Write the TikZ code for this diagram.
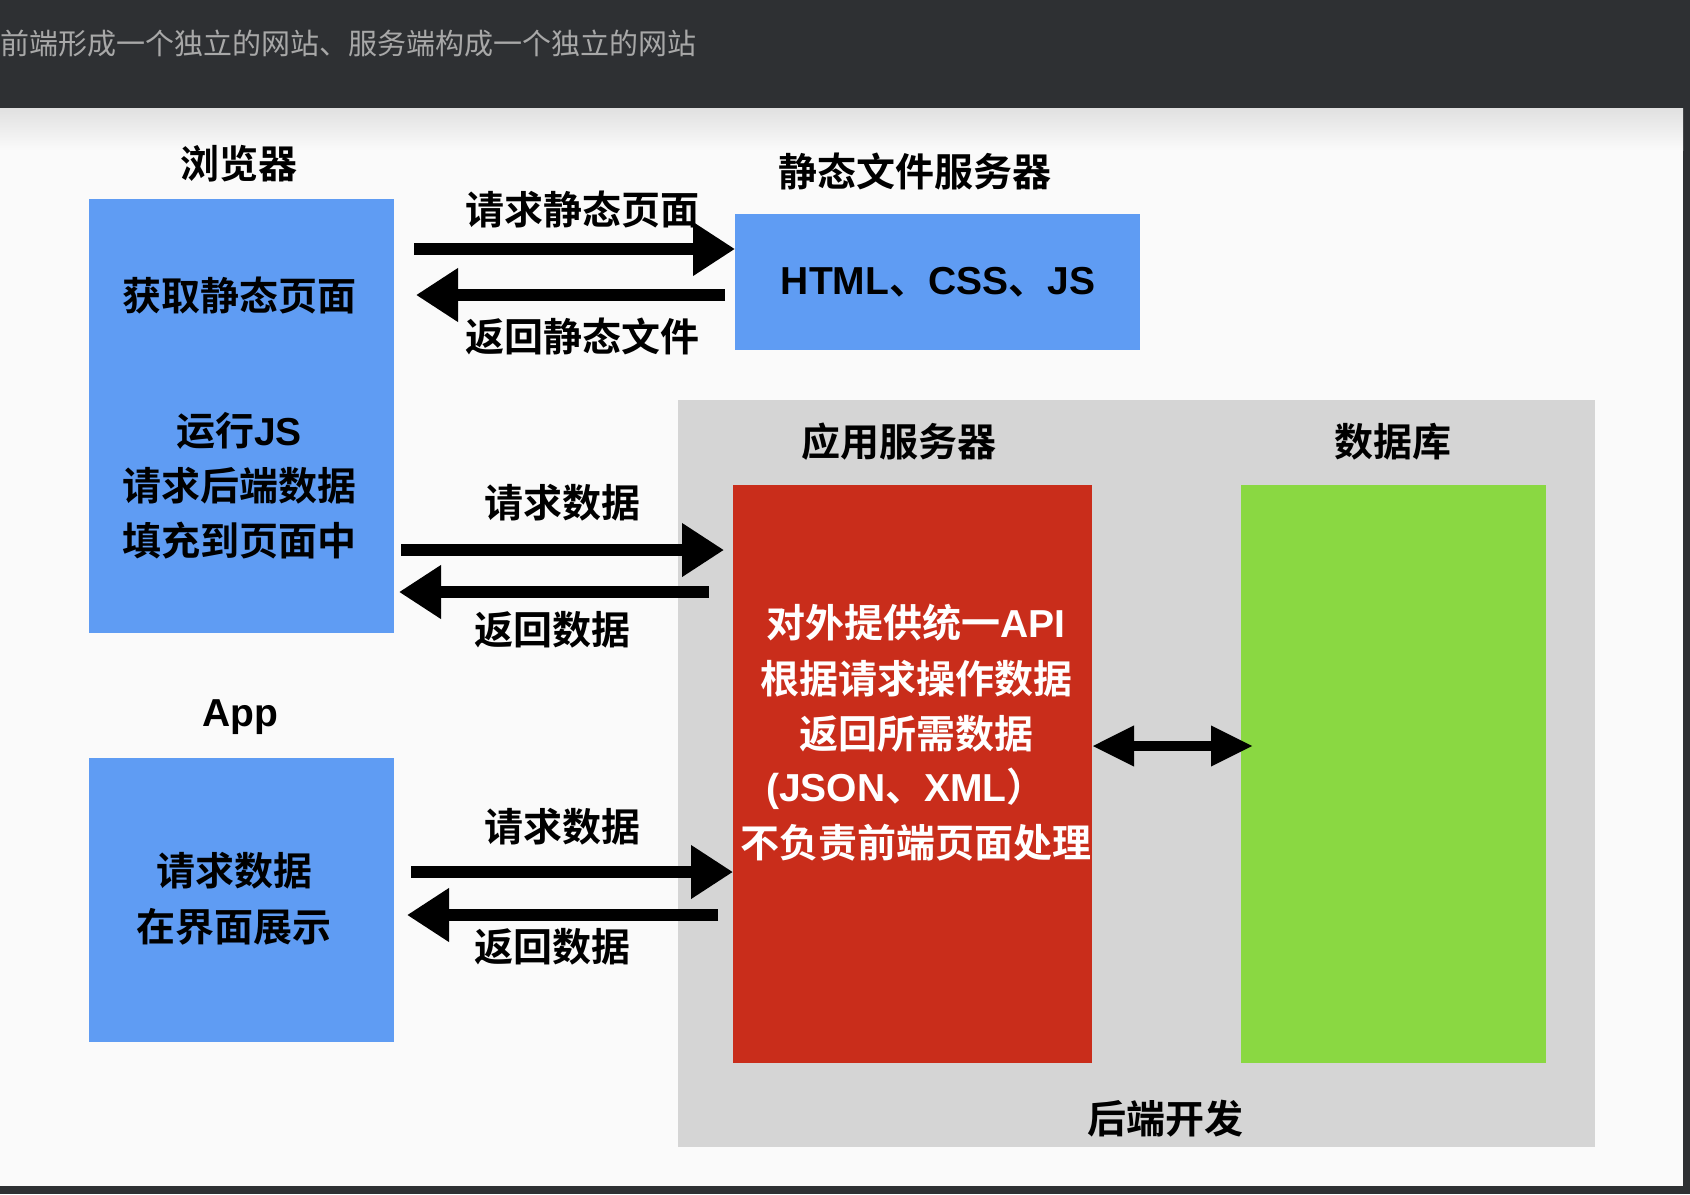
\documentclass[tikz,border=0pt]{standalone}
\usepackage{fontspec}
\setmainfont{Noto Sans CJK SC}[BoldFont={Noto Sans CJK SC Bold}]
\newfontfamily\latfont{Liberation Sans}
\usetikzlibrary{arrows.meta}
\definecolor{darkbar}{HTML}{2E3033}
\definecolor{paper}{HTML}{FAFAFA}
\definecolor{boxblue}{HTML}{5F9CF3}
\definecolor{backgrey}{HTML}{D5D5D5}
\definecolor{appred}{HTML}{C92D1B}
\definecolor{dbgreen}{HTML}{8AD842}
\definecolor{titlegrey}{HTML}{A8A8A8}
\newcommand\lt[1]{{\latfont\bfseries #1}}
\begin{document}
\begin{tikzpicture}[x=0.5pt,y=-0.5pt,
  box/.style={draw=none, inner sep=0, outer sep=0, anchor=north west},
  lbl/.style={font=\fontsize{19.5pt}{27.5pt}\selectfont\bfseries, text=black, inner sep=0},
  wlbl/.style={lbl, text=white},
  bigarrow/.style={line width=6pt, -{Triangle[length=21pt,width=25.5pt]}},
  dblarrow/.style={line width=5pt, {Triangle[length=21pt,width=19pt]}-{Triangle[length=21pt,width=19pt]}}]
\useasboundingbox (0,0) rectangle (1690,1194);
\fill[darkbar] (0,0) rectangle (1690,1194);
\fill[paper] (0,108) rectangle (1683,1186);
\shade[top color=black!12, bottom color=paper] (0,108) rectangle (1683,150);
\node[anchor=west, inner sep=0, text=titlegrey, font=\fontsize{14.5pt}{16pt}\selectfont] (title) at (0,43) {前端形成一个独立的网站、服务端构成一个独立的网站};

% boxes
\node[box, fill=boxblue, minimum width=152.5pt, minimum height=217pt] (browser) at (89,199) {};
\node[box, fill=boxblue, minimum width=202.5pt, minimum height=68pt] (static) at (735,214) {};
\node[box, fill=backgrey, minimum width=458.5pt, minimum height=373.5pt] (backend) at (678,400) {};
\node[box, fill=appred, minimum width=179.5pt, minimum height=289pt] (appsrv) at (733,485) {};
\node[box, fill=dbgreen, minimum width=152.5pt, minimum height=289pt] (db) at (1241,485) {};
\node[box, fill=boxblue, minimum width=152.5pt, minimum height=142pt] (app) at (89,758) {};

% titles
\node[lbl] (tbrowser) at (239,164) {浏览器};
\node[lbl] (tstatic) at (915,172) {静态文件服务器};
\node[lbl] (tappsrv) at (899,442) {应用服务器};
\node[lbl] (tdb) at (1393,442) {数据库};
\node[lbl] (tapp) at (240,717) {\lt{App}};
\node[lbl] (tback) at (1165,1119) {后端开发};

% box contents
\node[lbl] (b1) at (239,296) {获取静态页面};
\node[lbl] (b2) at (239,431) {运行\lt{JS}};
\node[lbl] (b3) at (239,486) {请求后端数据};
\node[lbl] (b4) at (239,541) {填充到页面中};
\node[lbl] (s1) at (938,282) {\lt{HTML}、\lt{CSS}、\lt{JS}};
\node[wlbl] (r1) at (916,623) {对外提供统一\lt{API}};
\node[wlbl] (r2) at (916,679) {根据请求操作数据};
\node[wlbl] (r3) at (916,734) {返回所需数据};
\node[wlbl] (r4) at (906,789) {\lt{(JSON}、\lt{XML}）};
\node[wlbl] (r5) at (916,843) {不负责前端页面处理};
\node[lbl] (a1) at (234,871) {请求数据};
\node[lbl] (a2) at (234,927) {在界面展示};

% arrows
\draw[bigarrow, shorten <=10pt] (browser.east |- 0,249) -- (static.west |- 0,249);
\draw[bigarrow, shorten <=5pt, shorten >=11pt] (static.west |- 0,295) -- (browser.east |- 0,295);
\draw[bigarrow, shorten <=3.5pt, shorten >=4.5pt] (browser.east |- 0,550) -- (appsrv.west |- 0,550);
\draw[bigarrow, shorten <=12pt, shorten >=2.5pt] (appsrv.west |- 0,592) -- (browser.east |- 0,592);
\draw[bigarrow, shorten <=8.5pt] (app.east |- 0,872) -- (appsrv.west |- 0,872);
\draw[bigarrow, shorten <=7.5pt, shorten >=6.5pt] (appsrv.west |- 0,915) -- (app.east |- 0,915);
\draw[dblarrow, shorten >=-6pt] (appsrv.east |- 0,746) -- (db.west |- 0,746);

% arrow labels
\node[lbl] (l1) at (582,210) {请求静态页面};
\node[lbl] (l2) at (582,336) {返回静态文件};
\node[lbl] (l3) at (562,503) {请求数据};
\node[lbl] (l4) at (552,630) {返回数据};
\node[lbl] (l5) at (562,827) {请求数据};
\node[lbl] (l6) at (552,947) {返回数据};
\end{tikzpicture}
\end{document}
